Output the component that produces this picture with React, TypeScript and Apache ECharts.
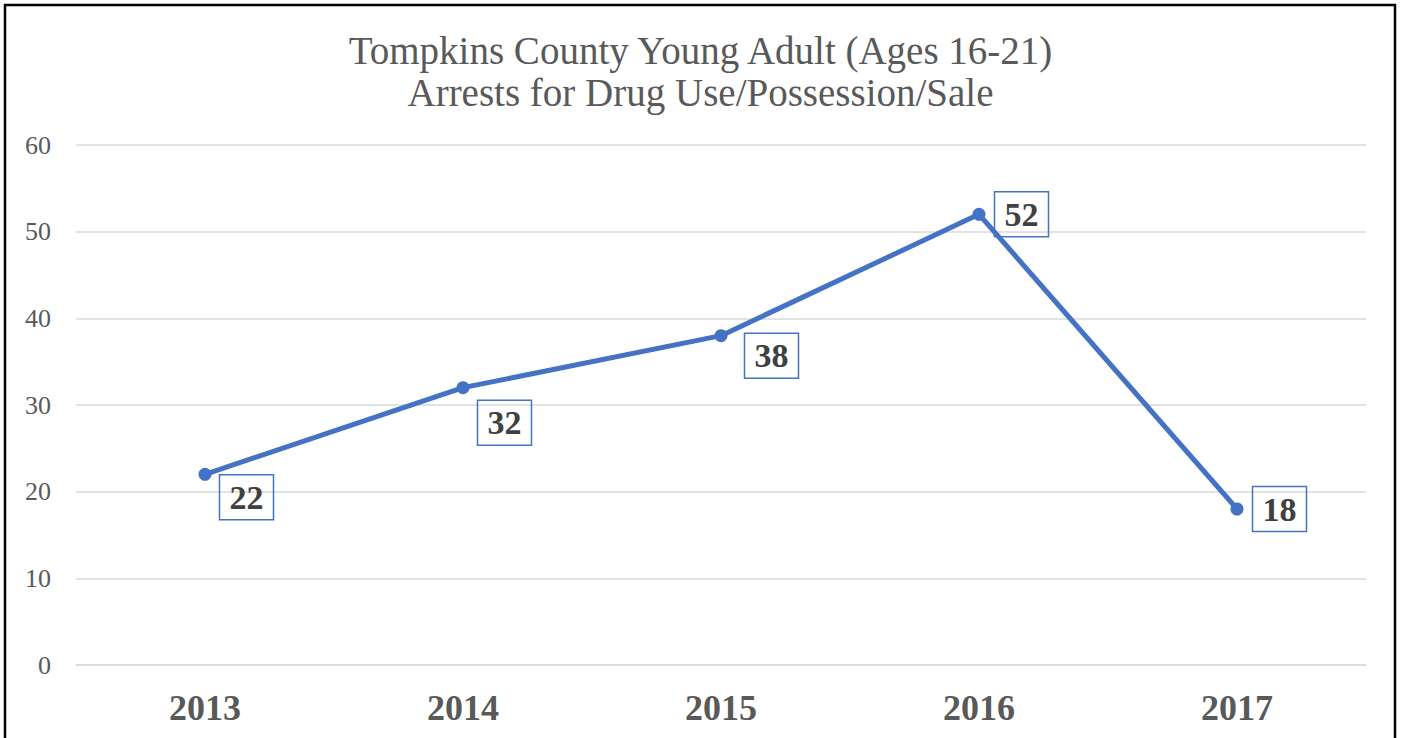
import React, { useEffect, useRef } from "react";
import * as echarts from "echarts";

const years = ["2013", "2014", "2015", "2016", "2017"];
const arrests = [22, 32, 38, 52, 18];
const titleLines = [
  "Tompkins County Young Adult (Ages 16-21)",
  "Arrests for Drug Use/Possession/Sale",
];

// label box placement tweaks (pixels), per point
const labelOffsets: [number, number][] = [
  [0, 23],
  [0, 35],
  [9, 20],
  [1, 0],
  [1, 0],
];

const FONT = "'Liberation Serif', 'DejaVu Serif', serif";

export default function App() {
  const ref = useRef<HTMLDivElement>(null);
  useEffect(() => {
    if (!ref.current) return;
    const chart = echarts.init(ref.current, null, { renderer: "svg" });
    chart.setOption({
      animation: false,
      backgroundColor: "#ffffff",
      title: {
        text: titleLines.join("\n"),
        left: "center",
        top: 24,
        textStyle: {
          fontFamily: FONT,
          fontSize: 39,
          fontWeight: "normal",
          color: "#595959",
          lineHeight: 42,
        },
      },
      graphic: [
        {
          type: "rect",
          shape: { x: 5, y: 5, width: 1390, height: 800 },
          style: { fill: "none", stroke: "#000000", lineWidth: 2.5 },
          silent: true,
        },
      ],
      grid: { left: 76, right: 35, top: 145, bottom: 73, containLabel: false },
      xAxis: {
        type: "category",
        data: years,
        boundaryGap: true,
        axisLine: { show: true, lineStyle: { color: "#d9d9d9", width: 1.5 } },
        axisTick: { show: false },
        axisLabel: {
          fontFamily: FONT,
          fontSize: 36,
          fontWeight: "bold",
          color: "#595959",
          margin: 25,
        },
      },
      yAxis: {
        type: "value",
        min: 0,
        max: 60,
        interval: 10,
        axisLine: { show: false },
        axisTick: { show: false },
        splitLine: { lineStyle: { color: "#d9d9d9", width: 1.5 } },
        axisLabel: {
          fontFamily: FONT,
          fontSize: 26,
          color: "#595959",
          margin: 25,
        },
      },
      series: [
        {
          type: "line",
          data: arrests.map((v, i) => ({
            value: v,
            label: { offset: labelOffsets[i] },
          })),
          lineStyle: { color: "#4472C4", width: 5 },
          itemStyle: { color: "#4472C4" },
          symbol: "circle",
          symbolSize: 13,
          label: {
            show: true,
            position: "right",
            distance: 8,
            fontFamily: FONT,
            fontSize: 34,
            fontWeight: "bold",
            color: "#404040",
            borderColor: "#4472C4",
            borderWidth: 1.5,
            padding: [6, 10, 5, 10],
            lineHeight: 34,
          },
        },
      ],
    });
    return () => chart.dispose();
  }, []);
  return (
    <div
      ref={ref}
      style={{ position: "absolute", left: 0, top: 0, width: 1401, height: 738 }}
    />
  );
}
